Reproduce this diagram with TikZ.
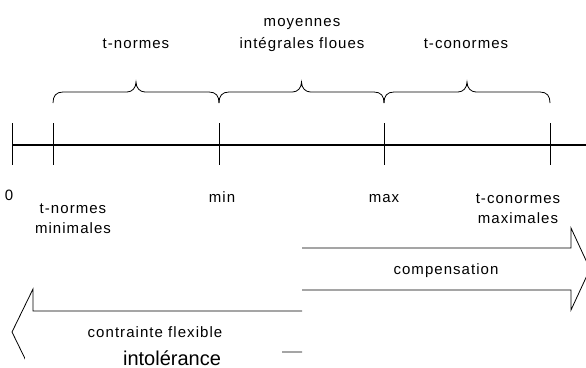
\documentclass[tikz,border=0pt]{standalone}
\usepackage{fontspec}
\setmainfont{Liberation Sans}
\newfontfamily\labfont[LetterSpace=7]{Liberation Sans}
\begin{document}
\begin{tikzpicture}[x=1pt,y=-1pt,
  lab/.style={font=\labfont\fontsize{15}{21}\selectfont, inner sep=0pt, anchor=base, align=center},
  thinline/.style={line width=0.8pt, black},
  axisline/.style={line width=1.3pt, black},
  bigarrow/.style={line width=0.8pt, black, line join=miter}]
\useasboundingbox (0,0) rectangle (586,367);
\clip (0,0) rectangle (586,367);
% axis
\coordinate (a0) at (12,145);
\coordinate (a1) at (53,145);
\coordinate (amin) at (219,145);
\coordinate (amax) at (384,145);
\coordinate (a4) at (550,145);
\coordinate (aend) at (586,145);
\draw[axisline] (a0) -- (aend);
\foreach \c in {a0,a1,amin,amax,a4}
  \draw[thinline] (\c) ++(0,-22) -- ++(0,42);
% braces
\foreach \xa/\xb in {53/219,219/384,384/550} {
  \pgfmathsetmacro\m{(\xa+\xb)/2}
  \draw[thinline] (\xa,103) .. controls (\xa,96) and (\xa+3,92) .. (\xa+10,92)
    -- (\m-9,92) .. controls (\m-4,92) and (\m,88) .. (\m,82)
    .. controls (\m,88) and (\m+4,92) .. (\m+9,92)
    -- (\xb-10,92) .. controls (\xb-3,92) and (\xb,96) .. (\xb,103);
}
% big arrows
\draw[bigarrow] (302,248) -- (571,248) -- (571,228) -- (590,269) -- (571,310) -- (571,290) -- (302,290);
\draw[bigarrow] (302,311) -- (33,311) -- (33,289) -- (12,332) -- (33,375) -- (33,352) -- (302,352);
\fill[white] (25,346) rectangle (282,380);
% labels
\node[lab] (tn) at (136,48) {t-normes};
\node[lab, font=\labfont\fontsize{15}{22}\selectfont] (moy) at (302,48) {moyennes\\intégrales floues};
\node[lab] (tc) at (466,48) {t-conormes};
\node[lab] (zero) at (9,200) {0};
\node[lab] (min) at (222,202) {min};
\node[lab, font=\labfont\fontsize{15}{20}\selectfont] (tnmin) at (73,233) {t-normes\\minimales};
\node[lab] (max) at (384,202) {max};
\node[lab, font=\labfont\fontsize{15}{20}\selectfont] (tcmax) at (518,223) {t-conormes\\maximales};
\node[lab] (comp) at (446,274) {compensation};
\node[lab] (cf) at (155,337) {contrainte flexible};
\node[font=\fontsize{20}{24}\selectfont, inner sep=0pt, anchor=base] (intol) at (172,365) {intolérance};
\end{tikzpicture}
\end{document}
